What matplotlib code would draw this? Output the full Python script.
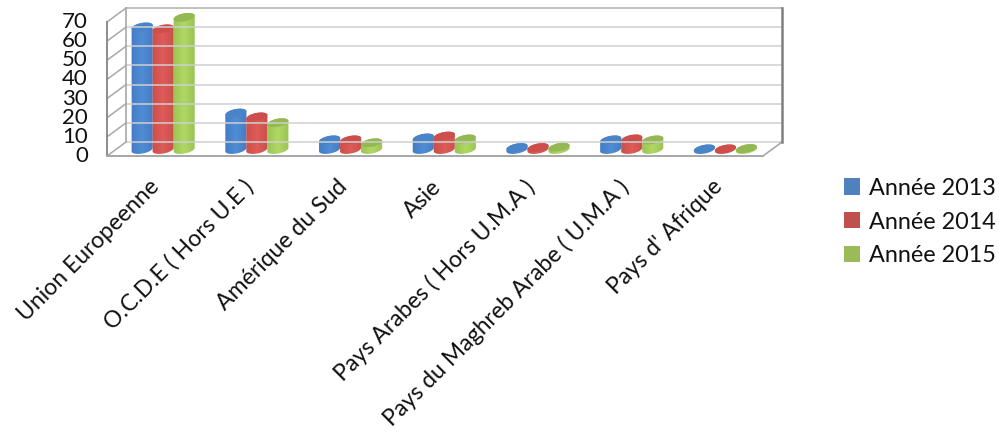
import numpy as np
import matplotlib
matplotlib.use('Agg')
import matplotlib.pyplot as plt
from matplotlib.colors import LinearSegmentedColormap
from matplotlib.lines import Line2D
from matplotlib.patches import Ellipse, Patch, PathPatch
from matplotlib.path import Path
from matplotlib.transforms import Affine2D, IdentityTransform

plt.rcParams['font.family'] = ['Lato', 'DejaVu Sans']

categories = ['Union Europeenne', 'O.C.D.E ( Hors U.E )', 'Amérique du Sud', 'Asie',
              'Pays Arabes ( Hors U.M.A )', 'Pays du Maghreb Arabe ( U.M.A )', "Pays d' Afrique"]
years = ['Année 2013', 'Année 2014', 'Année 2015']
v2013 = [64, 19, 5, 6, 1, 5, 0.3]
v2014 = [63, 17, 5, 7, 1, 5.5, 0.3]
v2015 = [69, 14, 3.5, 5.5, 1.2, 5, 0.5]
yticks = [0, 10, 20, 30, 40, 50, 60, 70]

legend_colors = ['#4F81BD', '#C0504D', '#9BBB59']
# dark edge, light middle, top face of each cylinder
bar_colors = [('#4279c0', '#4f8dd6', '#4a84c8'),
              ('#c64c48', '#e05c58', '#cc4f4b'),
              ('#98bf52', '#b0d864', '#93b854')]

W, H = 999, 433
fig = plt.figure(figsize=(W / 100, H / 100), dpi=100)
# axes = front plane of the 3D box
ax = fig.add_axes([107 / W, 1 - 156 / H, 656 / W, 134 / H])
ax.set_xlim(-0.5, 6.5)
ax.set_ylim(0, 70)
ax.axis('off')

back = (19, 14)
mid = (9.3, 6.5)
bar_px = 21.5
ell_h = 8
ell_ang = 11


def px(x, y, off=(0, 0)):
    p = ax.transData.transform((x, y))
    return p[0] + off[0], p[1] + off[1]


def pxline(p, q, color, lw, z=1):
    fig.add_artist(Line2D([p[0], q[0]], [p[1], q[1]], color=color, lw=lw, zorder=z,
                          transform=IdentityTransform()))


# walls and floor
for v in yticks:
    if v > 0:
        c = '#b0b0b0' if v == 70 else '#cfcfcf'
        pxline(px(-0.5, v, back), px(6.5, v, back), c, 1.1)
    pxline(px(-0.5, v), px(-0.5, v, back), '#a8a8a8', 1.1)
pxline(px(-0.5, 0, back), px(6.5, 0, back), '#cfcfcf', 1.1)
pxline(px(-0.5, 0, back), px(-0.5, 70, back), '#a8a8a8', 1.2)
pxline(px(-0.5, 0), px(-0.5, 70), '#8c8c8c', 1.4)
pxline(px(-0.5, 0), px(6.5, 0), '#a6a6a6', 1.4)
pxline(px(6.5, 0), px(6.5, 0, back), '#a8a8a8', 1.2)
pxline(px(6.5, 0, back), px(6.5, 70, back), '#808080', 1.8)


def cylinder(x, v, cols):
    cx, y0 = px(x, 0, mid)
    cx, y1 = px(x, v, mid)
    a = np.radians(ell_ang)
    t = np.linspace(0, np.pi, 40)
    ex = bar_px / 2 * np.cos(t)
    ey = ell_h / 2 * np.sin(t)
    rx = ex * np.cos(a) - ey * np.sin(a)
    ry = ex * np.sin(a) + ey * np.cos(a)
    # lower half of the base ellipse, then up to the top ellipse
    xs = np.r_[cx - rx, cx + rx]
    ys = np.r_[y0 - ry, y1 + ry]
    clip = PathPatch(Path(np.c_[xs, ys]), transform=IdentityTransform(), fc='none', ec='none')
    fig.add_artist(clip)
    cmap = LinearSegmentedColormap.from_list('c', [cols[0], cols[1], cols[0]])
    g = np.linspace(0, 1, 64).reshape(1, -1)
    ext = ax.transData.inverted().transform([(cx - bar_px / 2 - 2, y0 - 8), (cx + bar_px / 2 + 2, y1 + 8)])
    im = ax.imshow(g, cmap=cmap, aspect='auto', origin='lower', zorder=3,
                   extent=[ext[0][0], ext[1][0], ext[0][1], ext[1][1]])
    # the path alone clips, the cylinders stand out of the front plane
    im.set_clip_box(fig.bbox)
    im.set_clip_path(clip)
    top = Ellipse((0, 0), bar_px, ell_h, angle=ell_ang, fc=cols[2], ec='none', zorder=4,
                  transform=Affine2D().translate(cx, y1))
    top.set_clip_on(False)
    ax.add_artist(top)


series = [v2013, v2014, v2015]
pos = np.arange(len(categories))
for s, vals in enumerate(series):
    for i, v in enumerate(vals):
        cylinder(pos[i] + (s - 1) * 21 / 93.7, v, bar_colors[s])

ax.set_xlim(-0.5, 6.5)
ax.set_ylim(0, 70)

for v in yticks:
    ax.annotate(str(v), xy=(-0.5, v), xytext=(-19, 0), textcoords='offset pixels',
                ha='right', va='center', fontsize=16, color='#111111', annotation_clip=False)

for i, name in enumerate(categories):
    ax.annotate(name, xy=(i, 0), xytext=(-5, -20), textcoords='offset pixels',
                rotation=45, rotation_mode='anchor', ha='right', va='top',
                fontsize=16.6, color='#111111', annotation_clip=False)

handles = [Patch(fc=c, ec='none') for c in legend_colors]
fig.legend(handles, years, loc='upper left', bbox_to_anchor=(839 / W, 1 - 173 / H),
           frameon=False, fontsize=16.8, handlelength=0.69, handleheight=0.69,
           handletextpad=0.38, labelspacing=0.55, borderpad=0.2, borderaxespad=0,
           labelcolor='#111111')

fig.savefig('out.png', dpi=100)
